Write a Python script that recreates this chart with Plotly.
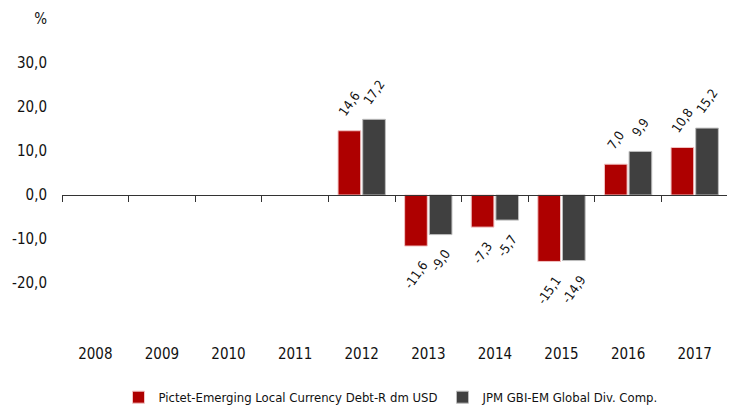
import plotly.graph_objects as go

years = ["2008", "2009", "2010", "2011", "2012", "2013", "2014", "2015", "2016", "2017"]
fund = [None, None, None, None, 14.6, -11.6, -7.3, -15.1, 7.0, 10.8]
index = [None, None, None, None, 17.2, -9.0, -5.7, -14.9, 9.9, 15.2]
series_names = ["Pictet-Emerging Local Currency Debt-R dm USD", "JPM GBI-EM Global Div. Comp."]
y_ticks = [-20, -10, 0, 10, 20, 30, 40]
y_ticktext = ["-20,0", "-10,0", "0,0", "10,0", "20,0", "30,0", "%"]

FONT = "DejaVu Sans Condensed, Liberation Sans Narrow, sans-serif"
RED = "#AE0000"
GRAY = "#404040"
Y_MIN, Y_MAX = -30, 40
PAD = "\u00a0" * 3


def fmt(v):
    return "" if v is None else PAD + f"{v:.1f}".replace(".", ",") + PAD


fig = go.Figure()
for name, vals, col, edge in [(series_names[0], fund, RED, "#F2C4C4"),
                              (series_names[1], index, GRAY, "#BDBDBD")]:
    fig.add_trace(go.Bar(
        x=years, y=vals, name=name,
        marker=dict(color=col, line=dict(color=edge, width=1)),
        text=[fmt(v) for v in vals],
        textposition="outside", textangle=-55, cliponaxis=False,
        constraintext="none",
        textfont=dict(family=FONT, size=13, color="#111111"),
    ))

fig.add_trace(go.Scatter(x=years, y=[0] * len(years), xaxis="x2", mode="markers",
                         marker=dict(opacity=0), showlegend=False, hoverinfo="skip"))

zero_pos = (0 - Y_MIN) / (Y_MAX - Y_MIN)

# page body has an 8px default margin, so the figure is sized to fit inside the window
fig.update_layout(
    width=727, height=399,
    margin=dict(l=54, r=7, t=11, b=80, autoexpand=False),
    paper_bgcolor="white", plot_bgcolor="white",
    barmode="group", bargap=0.26, bargroupgap=0.08,
    font=dict(family=FONT, size=15, color="#111111"),
    xaxis=dict(type="category", categoryorder="array", categoryarray=years,
               range=[-0.5, 9.5], anchor="free", position=zero_pos,
               showline=True, linecolor="#333333", linewidth=1.2,
               ticks="outside", ticklen=6, tickcolor="#333333", tickwidth=1.2,
               tickson="boundaries", showticklabels=False, showgrid=False, zeroline=False,
               automargin=False),
    xaxis2=dict(type="category", categoryorder="array", categoryarray=years,
                range=[-0.5, 9.5], overlaying="x", anchor="y", side="bottom",
                showline=False, ticks="", showgrid=False, zeroline=False,
                ticklabelstandoff=16, automargin=False,
                tickfont=dict(family=FONT, size=15, color="#111111")),
    yaxis=dict(range=[Y_MIN, Y_MAX], tickvals=y_ticks, ticktext=y_ticktext,
               showgrid=False, zeroline=False, showline=False, ticks="",
               ticklabelstandoff=14, automargin=False,
               tickfont=dict(family=FONT, size=15, color="#111111")),
    legend=dict(orientation="h", x=0.494, xanchor="center", y=-0.228, yanchor="middle",
                font=dict(family=FONT, size=13, color="#111111"),
                itemwidth=30, tracegroupgap=0),
    showlegend=True,
)

fig.write_html("out.html")
